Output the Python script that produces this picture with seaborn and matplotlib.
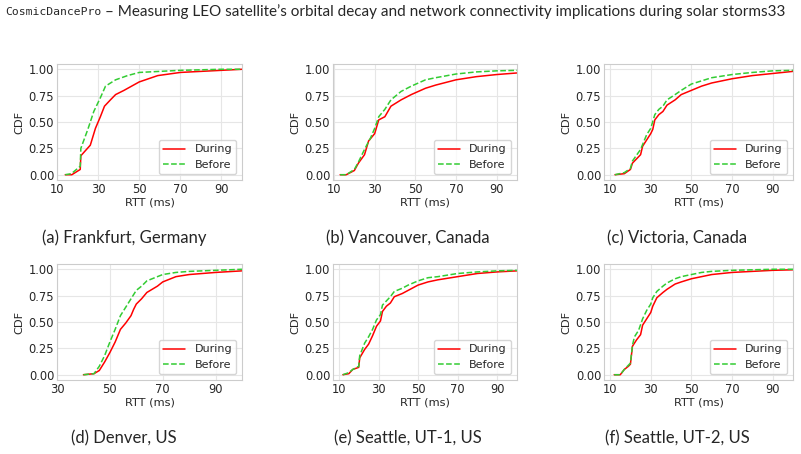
import matplotlib
matplotlib.use("Agg")
import pandas as pd
import matplotlib.pyplot as plt
import seaborn as sns

captions = ["(a) Frankfurt, Germany", "(b) Vancouver, Canada", "(c) Victoria, Canada",
            "(d) Denver, US", "(e) Seattle, UT-1, US", "(f) Seattle, UT-2, US"]
xlims = [(10, 100), (9.5, 100), (7, 100), (30, 100), (7, 100), (7, 100)]
xtick_sets = [[10, 30, 50, 70, 90]] * 3 + [[30, 50, 70, 90]] + [[10, 30, 50, 70, 90]] * 2

fra_during_rtt = [14, 17.2, 21.3, 21.6, 26.2, 28.7, 31.1, 33.1, 36, 38.5, 42.6, 50, 59, 70, 90, 100]
fra_during_cdf = [0, 0.0, 0.05, 0.18, 0.28, 0.44, 0.55, 0.65, 0.71, 0.76, 0.80, 0.88, 0.94, 0.97, 0.99, 1.0]
fra_before_rtt = [14, 17, 21.3, 21.6, 25, 27.9, 31.1, 33.6, 38.5, 44.3, 50, 70, 90, 100]
fra_before_cdf = [0, 0.01, 0.08, 0.25, 0.43, 0.60, 0.73, 0.84, 0.90, 0.94, 0.97, 0.99, 1.0, 1.0]

van_during_rtt = [13, 16, 20, 22, 25, 27, 30, 32, 35, 38, 43, 48, 55, 60, 70, 80, 90, 100]
van_during_cdf = [0, 0, 0.04, 0.11, 0.19, 0.32, 0.39, 0.52, 0.55, 0.65, 0.71, 0.76, 0.82, 0.85, 0.90, 0.93, 0.95, 0.965]
van_before_rtt = [13, 16, 20, 22, 25, 28, 30, 32, 35, 38, 43, 48, 55, 60, 70, 80, 90, 100]
van_before_cdf = [0, 0, 0.05, 0.12, 0.24, 0.35, 0.44, 0.55, 0.62, 0.71, 0.79, 0.84, 0.90, 0.92, 0.955, 0.975, 0.985, 0.99]

vic_during_rtt = [12.4, 17, 20, 21, 25, 26, 28, 30, 31, 32, 34, 36, 38, 42, 45, 50, 55, 60, 70, 80, 90, 100]
vic_during_cdf = [0, 0.01, 0.05, 0.11, 0.19, 0.27, 0.33, 0.39, 0.43, 0.52, 0.57, 0.60, 0.66, 0.71, 0.76, 0.80, 0.84, 0.87, 0.91, 0.94, 0.96, 0.98]
vic_before_rtt = [12.4, 17, 20, 21, 25, 28, 30, 32, 34, 36, 38, 42, 45, 50, 55, 60, 70, 80, 90, 100]
vic_before_cdf = [0, 0.02, 0.06, 0.13, 0.24, 0.38, 0.44, 0.57, 0.62, 0.65, 0.71, 0.76, 0.80, 0.86, 0.89, 0.92, 0.95, 0.97, 0.985, 0.99]

den_during_rtt = [40, 44, 46, 48, 50, 52, 53, 54, 56, 58, 59, 60, 62, 64, 66, 68, 70, 75, 80, 90, 100]
den_during_cdf = [0, 0.01, 0.04, 0.12, 0.21, 0.31, 0.37, 0.43, 0.49, 0.56, 0.62, 0.67, 0.72, 0.78, 0.81, 0.84, 0.88, 0.93, 0.95, 0.97, 0.985]
den_before_rtt = [40, 44, 46, 48, 50, 52, 54, 56, 58, 60, 62, 64, 66, 70, 75, 80, 90, 100]
den_before_cdf = [0, 0.01, 0.08, 0.18, 0.31, 0.43, 0.56, 0.64, 0.72, 0.80, 0.84, 0.89, 0.91, 0.95, 0.97, 0.98, 0.99, 1.0]

se1_during_rtt = [12, 15, 17, 20, 20.5, 23, 25, 27, 29, 31, 32, 34, 36, 38, 42, 45, 50, 55, 60, 70, 80, 90, 100]
se1_during_cdf = [0, 0.01, 0.05, 0.07, 0.16, 0.24, 0.29, 0.37, 0.46, 0.51, 0.60, 0.65, 0.68, 0.74, 0.77, 0.80, 0.85, 0.88, 0.90, 0.93, 0.96, 0.975, 0.985]
se1_before_rtt = [12, 15, 17, 20, 20.5, 23, 25, 27, 29, 31, 32, 34, 36, 38, 42, 45, 50, 55, 60, 70, 80, 90, 100]
se1_before_cdf = [0, 0.02, 0.05, 0.08, 0.18, 0.30, 0.36, 0.43, 0.52, 0.57, 0.66, 0.70, 0.74, 0.79, 0.82, 0.85, 0.89, 0.92, 0.93, 0.96, 0.975, 0.985, 0.99]

se2_during_rtt = [12, 15, 17, 19, 20, 21, 23, 25, 26, 28, 30, 31, 33, 36, 38, 42, 45, 50, 55, 60, 70, 80, 90, 100]
se2_during_cdf = [0, 0.0, 0.05, 0.08, 0.10, 0.27, 0.33, 0.38, 0.47, 0.53, 0.59, 0.65, 0.73, 0.78, 0.81, 0.86, 0.88, 0.91, 0.93, 0.95, 0.97, 0.98, 0.99, 0.995]
se2_before_rtt = [12, 15, 17, 19, 20, 21, 22, 24, 26, 28, 30, 31, 33, 36, 38, 42, 45, 50, 55, 60, 70, 90, 100]
se2_before_cdf = [0, 0.0, 0.05, 0.09, 0.11, 0.28, 0.36, 0.42, 0.53, 0.61, 0.67, 0.73, 0.79, 0.84, 0.87, 0.91, 0.93, 0.95, 0.97, 0.98, 0.99, 1.0, 1.0]

panels = [
    (fra_during_rtt, fra_during_cdf, fra_before_rtt, fra_before_cdf),
    (van_during_rtt, van_during_cdf, van_before_rtt, van_before_cdf),
    (vic_during_rtt, vic_during_cdf, vic_before_rtt, vic_before_cdf),
    (den_during_rtt, den_during_cdf, den_before_rtt, den_before_cdf),
    (se1_during_rtt, se1_during_cdf, se1_before_rtt, se1_before_cdf),
    (se2_during_rtt, se2_during_cdf, se2_before_rtt, se2_before_cdf),
]

# ---- STYLE ----
sns.set_style("whitegrid", {"axes.edgecolor": ".8", "grid.color": ".9"})
plt.rcParams["font.family"] = ["DejaVu Sans"]
W, H = 801, 454
fig = plt.figure(figsize=(W / 100, H / 100), dpi=100)

# axes boxes in pixels: (left, right, top, bottom)
col_px = [(57, 242), (333, 517), (604, 793)]
row_px = [(64, 180), (264, 380)]
cap_x = [124, 408, 677]
cap_y = [238, 438]
palette = {"During": "#ff0000", "Before": "#33cc33"}

for i, (d_rtt, d_cdf, b_rtt, b_cdf) in enumerate(panels):
    r, c = divmod(i, 3)
    l, rr = col_px[c]
    t, b = row_px[r]
    ax = fig.add_axes([l / W, 1 - b / H, (rr - l) / W, (b - t) / H])
    df = pd.concat([
        pd.DataFrame({"RTT": d_rtt, "CDF": d_cdf, "period": "During"}),
        pd.DataFrame({"RTT": b_rtt, "CDF": b_cdf, "period": "Before"}),
    ])
    sns.lineplot(data=df, x="RTT", y="CDF", hue="period", style="period",
                 palette=palette, dashes={"During": "", "Before": (3.7, 1.6)},
                 estimator=None, linewidth=1.1, ax=ax)
    ax.set_xlim(*xlims[i])
    ax.set_ylim(-0.05, 1.05)
    ax.set_xticks(xtick_sets[i])
    ax.set_yticks([0, 0.25, 0.5, 0.75, 1.0])
    ax.set_yticklabels(["0.00", "0.25", "0.50", "0.75", "1.00"])
    ax.tick_params(labelsize=8.3, length=0, pad=2)
    ax.set_xlabel("RTT (ms)", fontsize=8.2, labelpad=1)
    ax.set_ylabel("CDF", fontsize=8.2, labelpad=3)
    h, lab = ax.get_legend_handles_labels()
    ax.legend(h, lab, loc="lower right", fontsize=8, frameon=True,
              borderaxespad=0.5, handlelength=2.0)
    fig.text(cap_x[c] / W, 1 - cap_y[r] / H, captions[i], ha="center", va="center",
             family=["Lato", "DejaVu Sans"], fontsize=12)

# ---- running header ----
t1 = fig.text(5 / W, 1 - 12 / H, "CosmicDancePro", family="DejaVu Sans Mono",
              fontsize=8.2, va="center", ha="left")
renderer = fig.canvas.get_renderer()
ext = t1.get_window_extent(renderer)
rest = "\u2013 Measuring LEO satellite\u2019s orbital decay and network connectivity implications during solar storms33"
t2 = fig.text((ext.x1 + 4) / W, 1 - 12 / H, rest, family=["Lato", "DejaVu Sans"],
              fontsize=10, va="center", ha="left")
w2 = t2.get_window_extent(renderer).width
t2.set_fontsize(10 * (787 - ext.x1 - 4) / w2)

fig.savefig("out.png", dpi=100)
